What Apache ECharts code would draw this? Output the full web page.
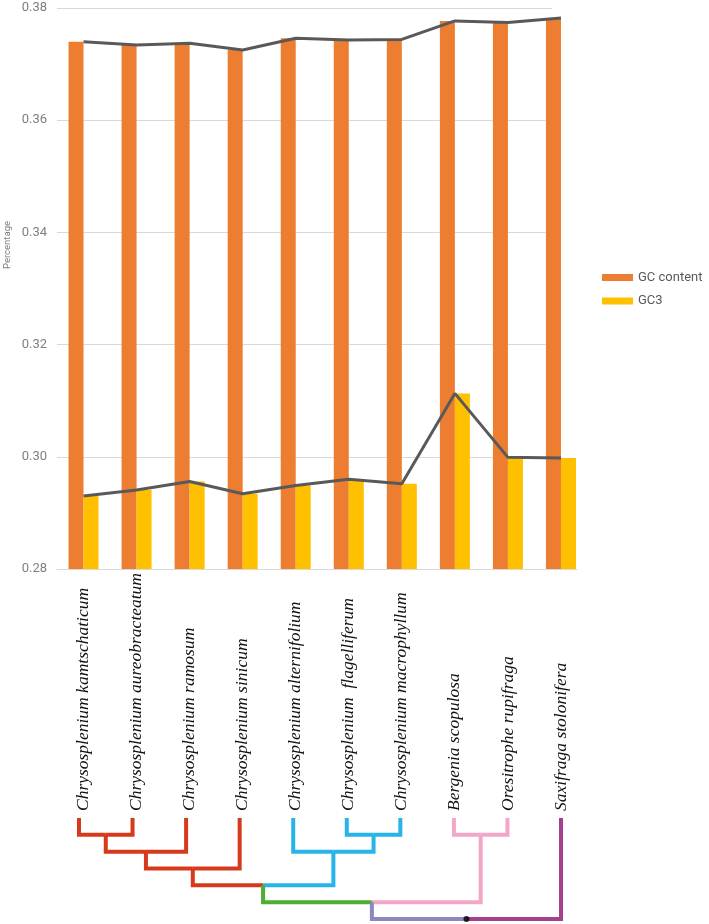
<!DOCTYPE html>
<html><head><meta charset="utf-8">
<script src="https://cdn.jsdelivr.net/npm/echarts@6/dist/echarts.min.js"></script>
<style>html,body{margin:0;padding:0;background:#fff}#c{width:709px;height:924px}</style>
</head><body><div id="c"></div><script>
// ---- data ----
const species = [
  'Chrysosplenium kamtschaticum',
  'Chrysosplenium aureobracteatum',
  'Chrysosplenium ramosum',
  'Chrysosplenium sinicum',
  'Chrysosplenium alternifolium',
  'Chrysosplenium  flagelliferum',
  'Chrysosplenium macrophyllum',
  'Bergenia scopulosa',
  'Oresitrophe rupifraga',
  'Saxifraga stolonifera'
];
const gcContent = [0.3740, 0.3734, 0.3737, 0.3725, 0.3746, 0.3743, 0.3744, 0.3777, 0.3774, 0.3782];
const gc3 = [0.2930, 0.2941, 0.2956, 0.2934, 0.2949, 0.2960, 0.2952, 0.3113, 0.2999, 0.2998];
const yMin = 0.28, yMax = 0.38, yStep = 0.02;
const yTitle = 'Percentage';
// tree: [node id, child A, child B, merge level] (leaves are species indices)
const treeMerges = [
  ['A', 0, 1, 1],
  ['B', 'A', 2, 2],
  ['C', 'B', 3, 3],
  ['D', 5, 6, 1],
  ['E', 4, 'D', 2],
  ['F', 'C', 'E', 4],
  ['G', 7, 8, 1],
  ['H', 'F', 'G', 5],
  ['R', 'H', 9, 6]
];
const treeRoot = 'R';

// ---- styles ----
const RED = '#D63A1D', BLUE = '#27B5E9', GREEN = '#4DAF32', PINK = '#F3A6C8', LAV = '#8A87C2', MAG = '#A4418F';
const branchColor = {0:RED,1:RED,2:RED,3:RED,A:RED,B:RED,C:RED,4:BLUE,5:BLUE,6:BLUE,D:BLUE,E:BLUE,F:GREEN,7:PINK,8:PINK,G:PINK,H:LAV,9:MAG};

// ---- tree geometry from structure ----
const pos = {}, lvl = {}, parentOf = {};
species.forEach((s, i) => { pos[i] = i; lvl[i] = 0; });
treeMerges.forEach(([id, a, b, h]) => { pos[id] = (pos[a] + pos[b]) / 2; lvl[id] = h; parentOf[a] = id; parentOf[b] = id; });
const treeSeries = Object.keys(parentOf).map(k => {
  const p = parentOf[k];
  return {
    type: 'line', xAxisIndex: 1, yAxisIndex: 1, silent: true, symbol: 'none', z: 2,
    data: [[pos[k], lvl[k]], [pos[k], lvl[p]], [pos[p], lvl[p]]],
    lineStyle: { color: branchColor[k], width: 4, join: 'miter', cap: 'butt' }
  };
});
treeSeries.push({
  type: 'scatter', xAxisIndex: 1, yAxisIndex: 1, silent: true, z: 5,
  data: [[pos[treeRoot], lvl[treeRoot]]], symbolSize: 6, itemStyle: { color: '#000' }
});

const LINE = '#595959';
const chart = echarts.init(document.getElementById('c'));
chart.setOption({
  animation: false,
  backgroundColor: '#fff',
  legend: {
    data: ['GC content', 'GC3'], orient: 'vertical', left: 597, top: 266, padding: 5,
    itemWidth: 31, itemHeight: 7, itemGap: 10.5, icon: 'rect',
    textStyle: { fontSize: 13, color: '#595959', fontFamily: 'Roboto' }
  },
  graphic: [{
    type: 'text', left: 2.5, top: 221, rotation: Math.PI / 2, silent: true,
    style: { text: yTitle, fontSize: 9.5, fill: '#7f7f7f', fontFamily: 'Roboto' }
  }],
  grid: [
    { left: 57, right: 121.5, top: 8, bottom: 355, outerBoundsMode: 'none', containLabel: false },
    { left: 52.2, right: 121.2, top: 818, bottom: 5, outerBoundsMode: 'none', containLabel: false },
    { left: 57, right: 157, top: 8, bottom: 355, outerBoundsMode: 'none', containLabel: false },
    { left: 57, right: 132, top: 8, bottom: 355, outerBoundsMode: 'none', containLabel: false }
  ],
  xAxis: [
    {
      type: 'category', data: species, gridIndex: 0,
      axisLine: { show: false },
      axisTick: { show: false },
      axisLabel: {
        interval: 0, rotate: 90, align: 'left', verticalAlign: 'middle', margin: 242,
        fontFamily: 'Liberation Serif', fontStyle: 'italic', fontSize: 17.5, color: '#111'
      }
    },
    { type: 'value', gridIndex: 1, min: -0.5, max: 9.5, show: false },
    { type: 'value', gridIndex: 2, min: 0, max: 1, show: false },
    {
      type: 'value', gridIndex: 3, min: 0, max: 1,
      axisLine: { show: true, lineStyle: { color: '#d9d9d9', width: 1 } },
      axisTick: { show: false }, axisLabel: { show: false }, splitLine: { show: false }
    }
  ],
  yAxis: [
    {
      type: 'value', gridIndex: 0, min: yMin, max: yMax, interval: yStep,
      axisLine: { show: false }, axisTick: { show: false },
      axisLabel: { show: false }, splitLine: { show: false }
    },
    { type: 'value', gridIndex: 1, min: 0, max: 6, inverse: true, show: false },
    {
      type: 'value', gridIndex: 2, min: yMin, max: yMax, interval: yStep, z: 0,
      axisLine: { show: false }, axisTick: { show: false },
      axisLabel: { margin: 10, align: 'right', fontSize: 13, color: '#7f7f7f', fontFamily: 'Roboto', formatter: v => v.toFixed(2) },
      splitLine: { lineStyle: { color: '#d9d9d9', width: 1 } }
    },
    { type: 'value', gridIndex: 3, min: 0, max: 1, show: false }
  ],
  series: [
    { name: 'GC content', type: 'bar', data: gcContent, barWidth: 15, barGap: '0%', itemStyle: { color: '#ED7D31' }, z: 2 },
    { name: 'GC3', type: 'bar', data: gc3, barWidth: 15, barGap: '0%', itemStyle: { color: '#FFC000' }, z: 2 },
    { name: 'GC content trend', type: 'line', data: gcContent, symbol: 'none', lineStyle: { color: LINE, width: 3 }, itemStyle: { color: LINE }, z: 4 },
    { name: 'GC3 trend', type: 'line', data: gc3, symbol: 'none', lineStyle: { color: LINE, width: 3 }, itemStyle: { color: LINE }, z: 4 }
  ].concat(treeSeries)
});
</script></body></html>
